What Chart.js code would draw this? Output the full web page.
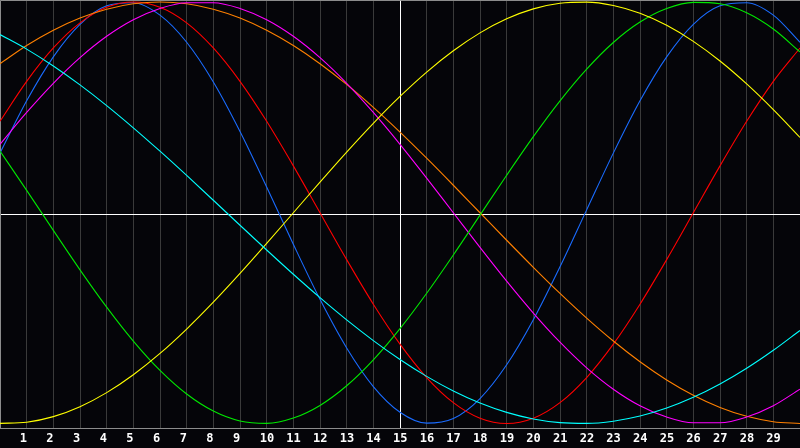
<!DOCTYPE html>
<html>
<head>
<meta charset="utf-8">
<script src="https://cdn.jsdelivr.net/npm/chart.js@4"></script>
<style>
html,body{margin:0;padding:0;background:#050509;}
#wrap{width:800px;height:448px;}
</style>
</head>
<body>
<div id="wrap"><canvas id="c" width="800" height="448"></canvas></div>
<script>
const days = [0,1,2,3,4,5,6,7,8,9,10,11,12,13,14,15,16,17,18,19,20,21,22,23,24,25,26,27,28,29,30];
const tickLabels = ['1','2','3','4','5','6','7','8','9','10','11','12','13','14','15','16','17','18','19','20','21','22','23','24','25','26','27','28','29'];
const todayDay = 15;

const cyanSeries = [0.8456,0.7765,0.6965,0.6068,0.5086,0.4031,0.2920,0.1769,0.0593,-0.0593,-0.1769,-0.2920,-0.4031,-0.5086,-0.6068,-0.6965,-0.7765,-0.8456,-0.9028,-0.9473,-0.9785,-0.9961,-0.9996,-0.9890,-0.9646,-0.9267,-0.8757,-0.8126,-0.7381,-0.6528,-0.5585];
const yellowSeries = [-0.9993,-0.9940,-0.9675,-0.9204,-0.8536,-0.7687,-0.6675,-0.5518,-0.4245,-0.2881,-0.1456,0.0000,0.1456,0.2881,0.4245,0.5518,0.6675,0.7687,0.8536,0.9204,0.9675,0.9940,0.9993,0.9834,0.9464,0.8893,0.8133,0.7200,0.6112,0.4894,0.3572];
const greenSeries = [0.2927,0.1064,-0.0837,-0.2708,-0.4480,-0.6091,-0.7482,-0.8603,-0.9412,-0.9881,-0.9993,-0.9744,-0.9143,-0.8211,-0.6981,-0.5501,-0.3822,-0.2004,-0.0113,0.1781,0.3612,0.5311,0.6816,0.8079,0.9048,0.9691,0.9983,0.9914,0.9487,0.8716,0.7632];
const magentaSeries = [0.3247,0.4759,0.6141,0.7357,0.8372,0.9158,0.9694,0.9966,0.9966,0.9694,0.9158,0.8372,0.7357,0.6141,0.4759,0.3247,0.1646,0.0000,-0.1646,-0.3247,-0.4759,-0.6141,-0.7357,-0.8372,-0.9158,-0.9694,-0.9966,-0.9966,-0.9694,-0.9158,-0.8372];
const orangeSeries = [0.7071,0.7934,0.8660,0.9239,0.9659,0.9914,1.0000,0.9914,0.9659,0.9239,0.8660,0.7934,0.7071,0.6088,0.5000,0.3827,0.2588,0.1305,0.0000,-0.1305,-0.2588,-0.3827,-0.5000,-0.6088,-0.7071,-0.7934,-0.8660,-0.9239,-0.9659,-0.9914,-1.0000];
const redSeries = [0.4339,0.6235,0.7818,0.9010,0.9749,1.0000,0.9749,0.9010,0.7818,0.6235,0.4339,0.2225,0.0000,-0.2225,-0.4339,-0.6235,-0.7818,-0.9010,-0.9749,-1.0000,-0.9749,-0.9010,-0.7818,-0.6235,-0.4339,-0.2225,0.0000,0.2225,0.4339,0.6235,0.7818];
const blueSeries = [0.2829,0.5313,0.7399,0.8941,0.9818,0.9966,0.9376,0.8090,0.6205,0.3858,0.1226,-0.1497,-0.4110,-0.6415,-0.8248,-0.9467,-0.9985,-0.9762,-0.8815,-0.7215,-0.5078,-0.2566,0.0137,0.2829,0.5313,0.7399,0.8941,0.9818,0.9966,0.9376,0.8090];

function pts(arr){ return days.map((d,i)=>({x:d,y:arr[i]})); }
function ds(arr,color){
  return {data:pts(arr),borderColor:color,borderWidth:1.1,pointRadius:0,fill:false,cubicInterpolationMode:'monotone'};
}

const framePlugin = {
  id:'frame',
  beforeDraw(chart){
    const ctx = chart.ctx;
    ctx.save();
    ctx.fillStyle = '#050509';
    ctx.fillRect(0,0,chart.width,chart.height);
    ctx.restore();
  },
  beforeDatasetsDraw(chart){
    const ctx = chart.ctx, a = chart.chartArea;
    const xs = chart.scales.x;
    ctx.save();
    ctx.lineWidth = 1;
    ctx.strokeStyle = '#ffffff';
    const vx = Math.round(xs.getPixelForValue(todayDay)) + 0.5;
    ctx.beginPath(); ctx.moveTo(vx, a.top); ctx.lineTo(vx, a.bottom); ctx.stroke();
    const hy = Math.round((a.top + a.bottom) / 2) + 0.5;
    ctx.beginPath(); ctx.moveTo(a.left, hy); ctx.lineTo(a.right, hy); ctx.stroke();
    ctx.strokeStyle = '#8c8c8c';
    ctx.beginPath();
    ctx.moveTo(a.left + 0.5, a.bottom); ctx.lineTo(a.left + 0.5, a.top + 0.5); ctx.lineTo(a.right, a.top + 0.5);
    ctx.moveTo(a.left, a.bottom + 0.5); ctx.lineTo(a.right, a.bottom + 0.5);
    ctx.stroke();
    ctx.restore();
  }
};

new Chart(document.getElementById('c'), {
  type:'line',
  data:{datasets:[
    ds(cyanSeries,'#00ffff'),
    ds(yellowSeries,'#ffff00'),
    ds(greenSeries,'#00e800'),
    ds(magentaSeries,'#ff00ff'),
    ds(orangeSeries,'#ff8000'),
    ds(redSeries,'#ff0000'),
    ds(blueSeries,'#1a6cff')
  ]},
  options:{
    responsive:false,
    animation:false,
    devicePixelRatio:1,
    layout:{padding:0},
    plugins:{legend:{display:false},title:{display:false},tooltip:{enabled:false}},
    scales:{
      x:{
        type:'linear', min:0, max:30,
        border:{display:false},
        grid:{color:'#3a3a3a', lineWidth:1, drawTicks:false},
        afterFit(s){ s.height = 20; s.paddingLeft = 0; s.paddingRight = 0; },
        ticks:{
          stepSize:1, autoSkip:false, maxRotation:0, minRotation:0,
          align:'start', labelOffset:-7, padding:4,
          color:'#ffffff',
          font:{family:'"DejaVu Sans Mono", monospace', size:12, weight:'bold'},
          callback(v){ return (v>=1 && v<=29) ? tickLabels[v-1] : ''; }
        }
      },
      y:{
        display:false, min:-1.0214, max:1.0095
      }
    }
  },
  plugins:[framePlugin]
});
</script>
</body>
</html>
